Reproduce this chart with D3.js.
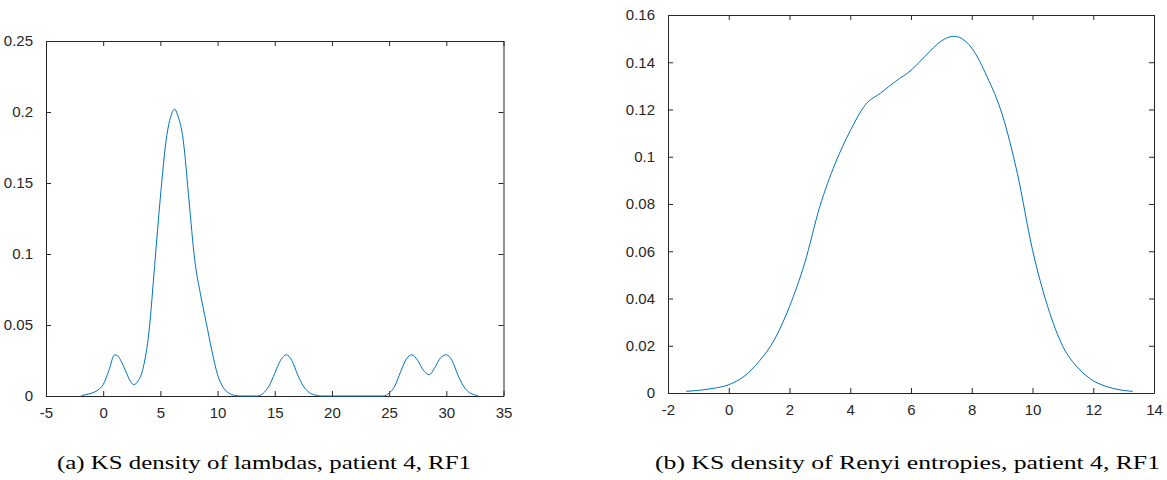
<!DOCTYPE html>
<html>
<head>
<meta charset="utf-8">
<script src="https://cdn.jsdelivr.net/npm/d3@7"></script>
<style>
  body { margin: 0; background: #fff; }
  .tick text { font-family: "Liberation Sans", Arial, sans-serif; font-size: 15px; fill: #262626; }
  .caption { font-family: "Liberation Serif", "Times New Roman", serif; font-size: 18.5px; fill: #000; }
</style>
</head>
<body>
<svg id="chart" width="1167" height="480"></svg>
<script>
// KS density of lambdas (panel a)
const lambdaX = [-1.9, -1.5, -1, -0.5, 0, 0.5, 1, 1.3, 1.6, 2, 2.4, 2.7, 3, 3.5, 4, 4.5, 5, 5.5, 6, 6.25, 6.5, 7, 7.5, 8, 8.5, 9, 9.5, 10, 10.5, 11, 11.5, 12, 13.5, 14, 14.5, 15, 15.5, 16, 16.5, 17, 17.5, 18, 18.5, 19, 24.5, 25, 25.5, 26, 26.5, 27, 27.5, 28, 28.5, 29, 29.5, 30, 30.5, 31, 31.5, 32, 32.5, 32.8];
const lambdaDensity = [0.0003, 0.001, 0.002, 0.004, 0.008, 0.018, 0.029, 0.028, 0.024, 0.017, 0.010, 0.008, 0.010, 0.020, 0.045, 0.092, 0.140, 0.180, 0.199, 0.202, 0.198, 0.180, 0.138, 0.096, 0.072, 0.052, 0.032, 0.015, 0.006, 0.002, 0.0004, 0, 0, 0.002, 0.007, 0.016, 0.025, 0.029, 0.025, 0.015, 0.007, 0.0025, 0.0008, 0, 0, 0.002, 0.007, 0.017, 0.026, 0.029, 0.025, 0.018, 0.015, 0.020, 0.027, 0.029, 0.025, 0.015, 0.007, 0.0025, 0.0008, 0];
const lambdaXTicks = [-5, 0, 5, 10, 15, 20, 25, 30, 35];
const lambdaYTicks = [0, 0.05, 0.1, 0.15, 0.2, 0.25];

// KS density of Renyi entropies (panel b)
const renyiX = [-1.4, -1, -0.5, 0, 0.5, 1, 1.5, 2, 2.5, 3, 3.5, 4, 4.5, 5, 5.5, 6, 6.5, 7, 7.4, 7.6, 8, 8.5, 9, 9.5, 10, 10.5, 11, 11.5, 12, 12.5, 13, 13.3];
const renyiDensity = [0.0007, 0.0011, 0.002, 0.0035, 0.007, 0.0134, 0.0225, 0.0366, 0.055, 0.079, 0.097, 0.111, 0.122, 0.127, 0.132, 0.1366, 0.143, 0.149, 0.151, 0.1505, 0.146, 0.134, 0.118, 0.093, 0.0606, 0.0366, 0.0197, 0.0106, 0.0052, 0.0025, 0.0011, 0.0007];
const renyiXTicks = [-2, 0, 2, 4, 6, 8, 10, 12, 14];
const renyiYTicks = [0, 0.02, 0.04, 0.06, 0.08, 0.1, 0.12, 0.14, 0.16];

const captions = ["(a) KS density of lambdas, patient 4, RF1", "(b) KS density of Renyi entropies, patient 4, RF1"];

const svg = d3.select("#chart");
const axisColor = "#262626";
const lineColor = "#0072BD";
// matlab prints a plain hyphen for negatives
const fmt = d => String(d);

function drawPanel(opt) {
  const x = d3.scaleLinear().domain(opt.xDomain).range([opt.left, opt.right]);
  const y = d3.scaleLinear().domain(opt.yDomain).range([opt.bottom, opt.top]);
  const g = svg.append("g");
  const tickLen = 5;

  // bottom + top (mirrored) x axes, ticks pointing inwards
  const xb = g.append("g")
      .attr("transform", "translate(0," + opt.bottom + ")")
      .call(d3.axisBottom(x).tickValues(opt.xTicks).tickSizeInner(-tickLen).tickSizeOuter(0).tickPadding(6 + tickLen).tickFormat(fmt));
  const xt = g.append("g")
      .attr("transform", "translate(0," + opt.top + ")")
      .call(d3.axisTop(x).tickValues(opt.xTicks).tickSizeInner(-tickLen).tickSizeOuter(0).tickFormat(""));
  const yl = g.append("g")
      .attr("transform", "translate(" + opt.left + ",0)")
      .call(d3.axisLeft(y).tickValues(opt.yTicks).tickSizeInner(-tickLen).tickSizeOuter(0).tickPadding(8 + tickLen).tickFormat(fmt));
  const yr = g.append("g")
      .attr("transform", "translate(" + opt.right + ",0)")
      .call(d3.axisRight(y).tickValues(opt.yTicks).tickSizeInner(-tickLen).tickSizeOuter(0).tickFormat(""));

  [xb, xt, yl, yr].forEach(a => {
    a.selectAll("line").attr("stroke", axisColor);
    a.select(".domain").attr("stroke", axisColor);
  });

  // density curve
  const pts = opt.xs.map((v, i) => [v, opt.ys[i]]);
  g.append("path")
      .datum(pts)
      .attr("fill", "none")
      .attr("stroke", lineColor)
      .attr("stroke-width", 1)
      .attr("d", d3.line().x(d => x(d[0])).y(d => y(d[1])).curve(d3.curveMonotoneX));

  g.append("text")
      .attr("class", "caption")
      .attr("x", opt.capX)
      .attr("y", 469)
      .attr("textLength", opt.capW)
      .attr("lengthAdjust", "spacingAndGlyphs")
      .text(opt.caption);
}

drawPanel({
  xDomain: [-5, 35], yDomain: [0, 0.25],
  left: 46, right: 503.5, top: 41, bottom: 396,
  xTicks: lambdaXTicks, yTicks: lambdaYTicks,
  xs: lambdaX, ys: lambdaDensity,
  caption: captions[0], capX: 57, capW: 414
});

drawPanel({
  xDomain: [-2, 14], yDomain: [0, 0.16],
  left: 668, right: 1154, top: 15, bottom: 393,
  xTicks: renyiXTicks, yTicks: renyiYTicks,
  xs: renyiX, ys: renyiDensity,
  caption: captions[1], capX: 655, capW: 505
});
</script>
</body>
</html>
